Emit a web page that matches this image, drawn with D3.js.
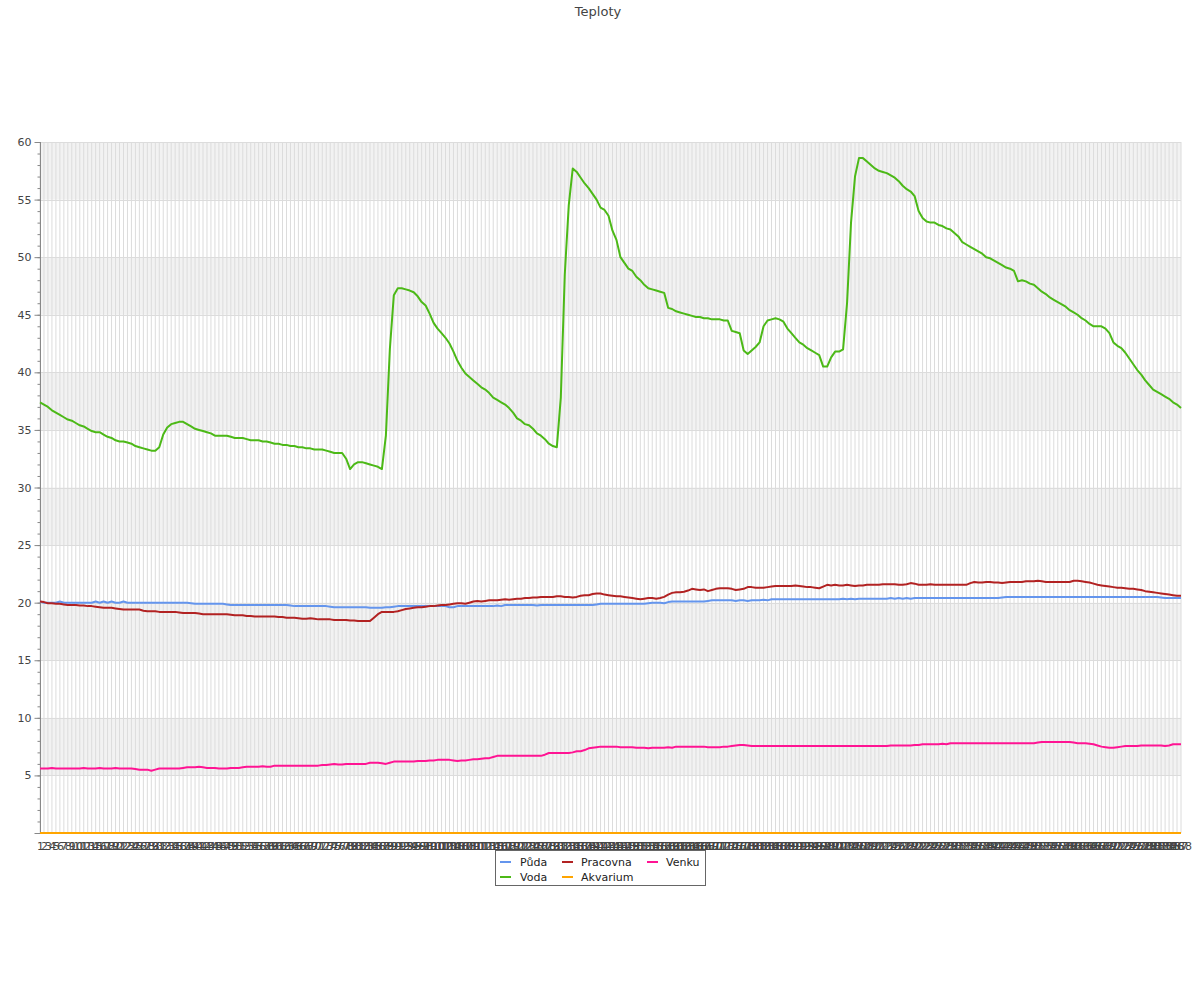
<!DOCTYPE html>
<html><head><meta charset="utf-8">
<script src="https://cdn.jsdelivr.net/npm/d3@7"></script>
<style>body{margin:0;background:#fff} text{font-family:"DejaVu Sans",sans-serif}</style>
</head><body><svg id="c" width="1200" height="1000"></svg>
<script>
const categories = d3.range(1, 289).map(String);
const seriesNames = ["Půda", "Voda", "Pracovna", "Akvarium", "Venku"];
const seriesColors = ["#6495ed", "#4cb917", "#b22222", "#ffa500", "#ff1493"];
const yTicks = [0, 5, 10, 15, 20, 25, 30, 35, 40, 45, 50, 55, 60];

const puda = [
20.1,20.0,20.0,20.0,20.0,20.1,20.0,20.0,20.0,20.0,
20.0,20.0,20.0,20.0,20.1,20.0,20.1,20.0,20.1,20.0,
20.0,20.1,20.0,20.0,20.0,20.0,20.0,20.0,20.0,20.0,
20.0,20.0,20.0,20.0,20.0,20.0,20.0,20.0,19.95,19.9,
19.9,19.9,19.9,19.9,19.9,19.9,19.9,19.85,19.8,19.8,
19.8,19.8,19.8,19.8,19.8,19.8,19.8,19.8,19.8,19.8,
19.8,19.8,19.8,19.75,19.7,19.7,19.7,19.7,19.7,19.7,
19.7,19.7,19.7,19.65,19.6,19.6,19.6,19.6,19.6,19.6,
19.6,19.6,19.6,19.55,19.55,19.55,19.55,19.6,19.6,19.65,
19.7,19.7,19.7,19.7,19.7,19.7,19.7,19.7,19.7,19.7,
19.7,19.7,19.7,19.6,19.6,19.7,19.7,19.7,19.7,19.7,
19.7,19.7,19.7,19.7,19.7,19.75,19.7,19.8,19.8,19.8,
19.8,19.8,19.8,19.8,19.8,19.75,19.8,19.8,19.8,19.8,
19.8,19.8,19.8,19.8,19.8,19.8,19.8,19.8,19.8,19.8,
19.85,19.9,19.9,19.9,19.9,19.9,19.9,19.9,19.9,19.9,
19.9,19.9,19.9,19.95,20.0,20.0,20.0,19.95,20.05,20.1,
20.1,20.1,20.1,20.1,20.1,20.1,20.1,20.1,20.15,20.2,
20.2,20.2,20.2,20.2,20.2,20.15,20.2,20.2,20.15,20.2,
20.2,20.2,20.25,20.2,20.3,20.3,20.3,20.3,20.3,20.3,
20.3,20.3,20.3,20.3,20.3,20.3,20.3,20.3,20.3,20.3,
20.3,20.3,20.35,20.3,20.35,20.3,20.35,20.35,20.35,20.35,
20.35,20.35,20.35,20.35,20.4,20.35,20.4,20.35,20.4,20.35,
20.4,20.4,20.4,20.4,20.4,20.4,20.4,20.4,20.4,20.4,
20.4,20.4,20.4,20.4,20.4,20.4,20.4,20.4,20.4,20.4,
20.4,20.4,20.45,20.5,20.5,20.5,20.5,20.5,20.5,20.5,
20.5,20.5,20.5,20.5,20.5,20.5,20.5,20.5,20.5,20.5,
20.5,20.5,20.5,20.5,20.5,20.5,20.5,20.5,20.5,20.5,
20.5,20.5,20.5,20.5,20.5,20.5,20.5,20.5,20.5,20.5,
20.5,20.5,20.45,20.4,20.4,20.4,20.4,20.4];

const voda = [
37.4,37.2,37.0,36.7,36.5,36.3,36.1,35.9,35.8,35.6,
35.4,35.3,35.1,34.9,34.8,34.8,34.6,34.4,34.3,34.1,
34.0,34.0,33.9,33.8,33.6,33.5,33.4,33.3,33.2,33.2,
33.5,34.6,35.2,35.5,35.6,35.7,35.7,35.5,35.3,35.1,
35.0,34.9,34.8,34.7,34.5,34.5,34.5,34.5,34.4,34.3,
34.3,34.3,34.2,34.1,34.1,34.1,34.0,34.0,33.9,33.8,
33.8,33.7,33.7,33.6,33.6,33.5,33.5,33.4,33.4,33.3,
33.3,33.3,33.2,33.1,33.0,33.0,33.0,32.5,31.6,32.0,
32.2,32.2,32.1,32.0,31.9,31.8,31.6,34.5,42.0,46.7,
47.3,47.3,47.2,47.1,46.95,46.6,46.1,45.8,45.1,44.3,
43.8,43.4,43.0,42.5,41.8,41.0,40.4,39.9,39.6,39.3,
39.0,38.7,38.5,38.2,37.8,37.6,37.4,37.2,36.9,36.5,
36.0,35.8,35.5,35.4,35.1,34.7,34.5,34.2,33.8,33.6,
33.5,37.8,48.5,54.5,57.7,57.4,56.9,56.4,56.0,55.5,
55.0,54.3,54.1,53.6,52.3,51.5,50.0,49.5,49.0,48.8,
48.3,48.0,47.6,47.3,47.2,47.1,47.0,46.9,45.6,45.5,
45.3,45.2,45.1,45.0,44.9,44.8,44.8,44.7,44.7,44.6,
44.6,44.6,44.5,44.5,43.6,43.5,43.4,41.9,41.6,41.9,
42.2,42.6,44.0,44.5,44.6,44.7,44.6,44.4,43.8,43.4,
43.0,42.6,42.4,42.1,41.9,41.7,41.5,40.5,40.5,41.3,
41.8,41.8,42.0,46.0,53.0,57.0,58.6,58.6,58.3,58.0,
57.7,57.5,57.4,57.3,57.1,56.9,56.6,56.2,55.9,55.7,
55.3,54.0,53.4,53.1,53.0,53.0,52.8,52.7,52.5,52.4,
52.1,51.8,51.3,51.1,50.9,50.7,50.5,50.3,50.0,49.9,
49.7,49.5,49.3,49.1,49.0,48.8,47.9,48.0,47.9,47.7,
47.6,47.3,47.0,46.8,46.5,46.3,46.1,45.9,45.7,45.4,
45.2,45.0,44.7,44.5,44.2,44.0,44.0,44.0,43.8,43.4,
42.6,42.3,42.1,41.7,41.2,40.7,40.2,39.8,39.3,38.9,
38.5,38.3,38.1,37.9,37.7,37.4,37.2,36.9];

const pracovna = [
20.1,20.05,19.95,19.95,19.9,19.9,19.85,19.8,19.8,19.8,
19.75,19.75,19.7,19.7,19.65,19.6,19.55,19.55,19.55,19.5,
19.45,19.4,19.4,19.4,19.4,19.4,19.3,19.25,19.25,19.25,
19.2,19.2,19.2,19.2,19.2,19.15,19.1,19.1,19.1,19.1,
19.05,19.0,19.0,19.0,19.0,19.0,19.0,19.0,18.95,18.9,
18.9,18.9,18.85,18.85,18.8,18.8,18.8,18.8,18.8,18.8,
18.75,18.75,18.7,18.7,18.7,18.65,18.6,18.6,18.65,18.6,
18.55,18.55,18.55,18.55,18.5,18.5,18.5,18.5,18.45,18.45,
18.4,18.4,18.4,18.4,18.7,19.0,19.2,19.2,19.2,19.2,
19.25,19.35,19.45,19.5,19.55,19.6,19.6,19.65,19.7,19.7,
19.75,19.8,19.8,19.85,19.9,19.95,19.95,19.9,20.0,20.1,
20.15,20.1,20.15,20.2,20.2,20.2,20.25,20.3,20.25,20.3,
20.35,20.35,20.4,20.4,20.45,20.45,20.5,20.5,20.5,20.5,
20.55,20.55,20.5,20.5,20.45,20.5,20.6,20.65,20.65,20.75,
20.8,20.8,20.7,20.65,20.6,20.55,20.55,20.5,20.45,20.4,
20.35,20.3,20.35,20.4,20.4,20.35,20.4,20.5,20.7,20.85,
20.9,20.9,20.95,21.05,21.2,21.15,21.1,21.15,21.0,21.1,
21.2,21.25,21.25,21.25,21.2,21.1,21.15,21.2,21.35,21.35,
21.3,21.3,21.3,21.35,21.4,21.45,21.45,21.45,21.45,21.45,
21.5,21.45,21.4,21.35,21.35,21.3,21.25,21.4,21.55,21.5,
21.55,21.5,21.5,21.55,21.5,21.45,21.5,21.5,21.55,21.55,
21.55,21.55,21.6,21.6,21.6,21.6,21.55,21.55,21.6,21.7,
21.65,21.55,21.55,21.55,21.6,21.55,21.55,21.55,21.55,21.55,
21.55,21.55,21.55,21.55,21.7,21.8,21.75,21.75,21.8,21.8,
21.75,21.75,21.7,21.75,21.8,21.8,21.8,21.8,21.85,21.85,
21.85,21.9,21.85,21.8,21.8,21.8,21.8,21.8,21.8,21.8,
21.9,21.9,21.85,21.8,21.75,21.65,21.55,21.5,21.45,21.4,
21.35,21.3,21.3,21.25,21.2,21.2,21.15,21.1,21.0,20.95,
20.9,20.85,20.8,20.75,20.7,20.65,20.6,20.6];

const akvarium = [
0,0,0,0,0,0,0,0,0,0, 0,0,0,0,0,0,0,0,0,0, 0,0,0,0,0,0,0,0,0,0,
0,0,0,0,0,0,0,0,0,0, 0,0,0,0,0,0,0,0,0,0, 0,0,0,0,0,0,0,0,0,0,
0,0,0,0,0,0,0,0,0,0, 0,0,0,0,0,0,0,0,0,0, 0,0,0,0,0,0,0,0,0,0,
0,0,0,0,0,0,0,0,0,0, 0,0,0,0,0,0,0,0,0,0, 0,0,0,0,0,0,0,0,0,0,
0,0,0,0,0,0,0,0,0,0, 0,0,0,0,0,0,0,0,0,0, 0,0,0,0,0,0,0,0,0,0,
0,0,0,0,0,0,0,0,0,0, 0,0,0,0,0,0,0,0,0,0, 0,0,0,0,0,0,0,0,0,0,
0,0,0,0,0,0,0,0,0,0, 0,0,0,0,0,0,0,0,0,0, 0,0,0,0,0,0,0,0,0,0,
0,0,0,0,0,0,0,0,0,0, 0,0,0,0,0,0,0,0,0,0, 0,0,0,0,0,0,0,0,0,0,
0,0,0,0,0,0,0,0,0,0, 0,0,0,0,0,0,0,0,0,0, 0,0,0,0,0,0,0,0,0,0,
0,0,0,0,0,0,0,0,0,0, 0,0,0,0,0,0,0,0];

const venku = [
5.6,5.6,5.6,5.65,5.6,5.6,5.6,5.6,5.6,5.6,
5.6,5.65,5.6,5.6,5.6,5.65,5.6,5.6,5.6,5.65,
5.6,5.6,5.6,5.6,5.55,5.5,5.5,5.5,5.4,5.5,
5.6,5.6,5.6,5.6,5.6,5.6,5.65,5.7,5.7,5.7,
5.75,5.7,5.65,5.65,5.65,5.6,5.6,5.6,5.65,5.65,
5.65,5.7,5.75,5.75,5.75,5.75,5.8,5.75,5.75,5.85,
5.85,5.85,5.85,5.85,5.85,5.85,5.85,5.85,5.85,5.85,
5.85,5.9,5.9,5.95,6.0,5.95,5.95,6.0,6.0,6.0,
6.0,6.0,6.0,6.1,6.1,6.1,6.05,6.0,6.1,6.2,
6.2,6.2,6.2,6.2,6.2,6.25,6.25,6.25,6.3,6.3,
6.35,6.35,6.35,6.35,6.3,6.25,6.3,6.3,6.35,6.4,
6.4,6.45,6.5,6.5,6.6,6.7,6.7,6.7,6.7,6.7,
6.7,6.7,6.7,6.7,6.7,6.7,6.7,6.8,6.95,6.95,
6.95,6.95,6.95,6.95,7.0,7.1,7.1,7.2,7.35,7.4,
7.45,7.5,7.5,7.5,7.5,7.5,7.45,7.45,7.45,7.45,
7.4,7.4,7.4,7.35,7.4,7.4,7.4,7.4,7.45,7.4,
7.5,7.5,7.5,7.5,7.5,7.5,7.5,7.5,7.45,7.45,
7.45,7.45,7.5,7.5,7.55,7.6,7.65,7.65,7.6,7.55,
7.55,7.55,7.55,7.55,7.55,7.55,7.55,7.55,7.55,7.55,
7.55,7.55,7.55,7.55,7.55,7.55,7.55,7.55,7.55,7.55,
7.55,7.55,7.55,7.55,7.55,7.55,7.55,7.55,7.55,7.55,
7.55,7.55,7.55,7.55,7.6,7.6,7.6,7.6,7.6,7.6,
7.65,7.65,7.7,7.7,7.7,7.7,7.7,7.75,7.7,7.8,
7.8,7.8,7.8,7.8,7.8,7.8,7.8,7.8,7.8,7.8,
7.8,7.8,7.8,7.8,7.8,7.8,7.8,7.8,7.8,7.8,
7.8,7.85,7.9,7.9,7.9,7.9,7.9,7.9,7.9,7.9,
7.85,7.8,7.8,7.8,7.75,7.7,7.6,7.5,7.45,7.4,
7.4,7.45,7.5,7.55,7.55,7.55,7.55,7.6,7.6,7.6,
7.6,7.6,7.6,7.55,7.6,7.7,7.7,7.7];

const seriesValues = [puda, voda, pracovna, akvarium, venku];

const svg = d3.select("#c");
const x = d3.scalePoint().domain(categories).range([40, 1181]);
const y = d3.scaleLinear().domain([0, 60]).range([833, 142]);

// alternating bands
const bandStarts = [5, 15, 25, 35, 45, 55];
svg.append("g").selectAll("rect").data(bandStarts).join("rect")
  .attr("x", 40).attr("width", 1141)
  .attr("y", d => y(d + 5)).attr("height", d => y(d) - y(d + 5))
  .attr("fill", "#f2f2f2");

// vertical grid
svg.append("g").selectAll("line").data(categories).join("line")
  .attr("x1", d => x(d)).attr("x2", d => x(d))
  .attr("y1", y(60)).attr("y2", y(0))
  .attr("stroke", "#dcdcdc").attr("stroke-width", 1);

// horizontal grid
svg.append("g").selectAll("line").data(yTicks.filter(d => d > 0)).join("line")
  .attr("x1", 40).attr("x2", 1181)
  .attr("y1", d => Math.round(y(d)) + 0.5).attr("y2", d => Math.round(y(d)) + 0.5)
  .attr("stroke", "#dcdcdc").attr("stroke-width", 1);

// y axis minor
const gMinor = svg.append("g").attr("transform", "translate(40.5,0)")
  .call(d3.axisLeft(y).tickValues(d3.range(0, 61, 1)).tickSize(3).tickFormat(""));
gMinor.select(".domain").remove();
gMinor.selectAll("line").attr("stroke", "#888");

const gY = svg.append("g").attr("transform", "translate(40.5,0)")
  .call(d3.axisLeft(y).tickValues(yTicks).tickSize(6).tickPadding(3)
    .tickFormat(d => d === 0 ? "" : d));
gY.select(".domain").attr("stroke", "#888").attr("d", `M0,${y(60)}V${y(0)}`);
gY.selectAll("line").attr("stroke", "#888");
gY.selectAll("text").attr("font-size", 11).attr("fill", "#444")
  .attr("font-family", "DejaVu Sans");

// x axis
const gX = svg.append("g").attr("transform", `translate(0,${y(0)})`)
  .call(d3.axisBottom(x).tickSize(0).tickPadding(9));
gX.select(".domain").attr("stroke", "#888").attr("d", `M40,0.5H1181`);
gX.selectAll("text").attr("font-size", 11).attr("fill", "#444")
  .attr("font-family", "DejaVu Sans");

// lines
const line = d3.line().x((d, i) => x(categories[i])).y(d => y(d));
const drawOrder = [0, 1, 2, 4, 3];
drawOrder.forEach(k => {
  svg.append("path").datum(seriesValues[k])
    .attr("d", line).attr("fill", "none")
    .attr("stroke", seriesColors[k]).attr("stroke-width", 2)
    .attr("stroke-linejoin", "round");
});

// title
svg.append("text").attr("x", 598).attr("y", 16).attr("text-anchor", "middle")
  .attr("font-size", 13).attr("fill", "#444").text("Teploty");

// legend
const lg = svg.append("g");
lg.append("rect").attr("x", 495.5).attr("y", 850.5).attr("width", 210).attr("height", 35)
  .attr("fill", "#fff").attr("stroke", "#666").attr("stroke-width", 1);
const legendPos = [
  {sx: 500, tx: 520, y: 862},
  {sx: 500, tx: 520, y: 877},
  {sx: 562, tx: 581, y: 862},
  {sx: 562, tx: 581, y: 877},
  {sx: 647, tx: 666, y: 862}
];
seriesNames.forEach((n, k) => {
  const p = legendPos[k];
  lg.append("line").attr("x1", p.sx).attr("x2", p.sx + 11).attr("y1", p.y).attr("y2", p.y)
    .attr("stroke", seriesColors[k]).attr("stroke-width", 2);
  lg.append("text").attr("x", p.tx).attr("y", p.y + 4).attr("font-size", 11)
    .attr("fill", "#222").text(n);
});
</script></body></html>
